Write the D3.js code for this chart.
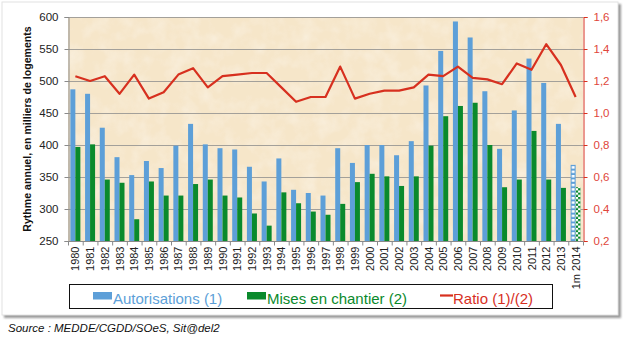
<!DOCTYPE html>
<html lang="fr">
<head>
<meta charset="utf-8">
<title>Autorisations et mises en chantier</title>
<script src="https://cdn.jsdelivr.net/npm/d3@7"></script>
<style>
    body { margin: 0; background: #ffffff; }
    text { font-family: "Liberation Sans", Arial, sans-serif; }
</style>
</head>
<body>
<svg id="chart" width="625" height="338"></svg>
<script>
    // donnees
    var years = ['1980','1981','1982','1983','1984','1985','1986','1987','1988','1989',
                 '1990','1991','1992','1993','1994','1995','1996','1997','1998','1999',
                 '2000','2001','2002','2003','2004','2005','2006','2007','2008','2009',
                 '2010','2011','2012','2013','1m 2014']
    var autorisations = [487,480,427,381,353,375,364,399,433,401,
                         395,393,366,343,379,330,325,321,395,372,
                         400,400,384,406,493,547,593,568,484,394,
                         454,535,497,433,369]
    var chantiers = [397,401,346,341,284,343,321,321,339,346,
                     321,318,293,274,326,309,296,291,308,342,
                     355,351,336,351,399,445,461,466,400,334,
                     346,422,346,333,334]
    var ratio = [1.23,1.20,1.23,1.12,1.24,1.09,1.13,1.24,1.28,1.16,
                 1.23,1.24,1.25,1.25,1.16,1.07,1.10,1.10,1.29,1.09,
                 1.12,1.14,1.14,1.16,1.24,1.23,1.29,1.22,1.21,1.18,
                 1.31,1.27,1.43,1.30,1.10]
    var leftTicks = [250,300,350,400,450,500,550,600]
    var rightTicks = [0.2,0.4,0.6,0.8,1.0,1.2,1.4,1.6]

    var blue = '#5d9fd8'
    var green = '#0a8a2c'
    var red = '#d7301f'

    var svg = d3.select('#chart')
    var defs = svg.append('defs')

    var pLeft = 68, pRight = 583, pTop = 17, pBottom = 241

    var x = d3.scaleBand().domain(years).range([pLeft, pRight]).padding(0)
    var x1 = d3.scaleBand().domain(['a', 'm']).range([0, x.bandwidth()])
        .paddingInner(0).paddingOuter(0.47)
    var y = d3.scaleLinear().domain([250, 600]).range([pBottom, pTop])
    var yr = d3.scaleLinear().domain([0.2, 1.6]).range([pBottom, pTop])

    // ombre de la carte
    defs.append('filter').attr('id', 'shadow')
        .append('feGaussianBlur').attr('stdDeviation', 1.2)

    // texture papier
    var paper = defs.append('filter').attr('id', 'paper')
        .attr('x', 0).attr('y', 0).attr('width', 1).attr('height', 1)
    paper.append('feTurbulence')
        .attr('type', 'fractalNoise').attr('baseFrequency', 0.06)
        .attr('numOctaves', 3).attr('seed', 4)
    paper.append('feColorMatrix')
        .attr('type', 'matrix')
        .attr('values', '0 0 0 0 1  0 0 0 0 1  0 0 0 0 1  1.4 0 0 0 -0.55')

    // motifs pour le dernier mois (2014)
    var last = years[years.length - 1]
    var pb = defs.append('pattern')
        .attr('id', 'chkBlue')
        .attr('patternUnits', 'userSpaceOnUse')
        .attr('x', x(last) + x1('a')).attr('y', pBottom)
        .attr('width', x1.bandwidth()).attr('height', 4.4)
    pb.append('rect').attr('width', x1.bandwidth()).attr('height', 4.4).attr('fill', blue)
    pb.append('rect').attr('x', 1.1).attr('y', 0).attr('width', x1.bandwidth() - 2.2)
        .attr('height', 2.4).attr('fill', '#fff')
    var pg = defs.append('pattern')
        .attr('id', 'chkGreen')
        .attr('patternUnits', 'userSpaceOnUse')
        .attr('x', x(last) + x1('m')).attr('y', pBottom)
        .attr('width', x1.bandwidth()).attr('height', 4.4)
    pg.append('rect').attr('width', x1.bandwidth()).attr('height', 4.4).attr('fill', green)
    pg.append('rect').attr('x', 0).attr('y', 0).attr('width', x1.bandwidth() / 2)
        .attr('height', 2.2).attr('fill', '#fff')
    pg.append('rect').attr('x', x1.bandwidth() / 2).attr('y', 2.2).attr('width', x1.bandwidth() / 2)
        .attr('height', 2.2).attr('fill', '#fff')

    svg.append('rect')
        .attr('x', 4).attr('y', 4).attr('width', 617).attr('height', 314)
        .attr('fill', '#9a9a9a')
        .attr('filter', 'url(#shadow)')
    svg.append('rect')
        .attr('x', 2).attr('y', 2).attr('width', 616).attr('height', 313)
        .attr('fill', '#ffffff')
        .attr('stroke', '#e2e2e2')

    // fond du graphique
    svg.append('rect')
        .attr('x', pLeft).attr('y', pTop)
        .attr('width', pRight - pLeft).attr('height', pBottom - pTop)
        .attr('fill', '#f6e6c9')
    svg.append('rect')
        .attr('x', pLeft).attr('y', pTop)
        .attr('width', pRight - pLeft).attr('height', pBottom - pTop)
        .attr('fill', '#fff')
        .attr('opacity', 0.45)
        .attr('filter', 'url(#paper)')

    // grille
    svg.append('g')
        .selectAll('line')
        .data(leftTicks.slice(1))
        .join('line')
        .attr('x1', pLeft).attr('x2', pRight)
        .attr('y1', function (d) { return y(d) + 0.5 })
        .attr('y2', function (d) { return y(d) + 0.5 })
        .attr('stroke', '#a3a09a')
        .attr('stroke-width', 1)

    // barres
    svg.append('g')
        .selectAll('rect')
        .data(years)
        .join('rect')
        .attr('x', function (d) { return x(d) + x1('a') })
        .attr('width', x1.bandwidth())
        .attr('y', function (d, i) { return y(autorisations[i]) })
        .attr('height', function (d, i) { return pBottom - y(autorisations[i]) })
        .attr('fill', function (d, i) { return i == years.length - 1 ? 'url(#chkBlue)' : blue })

    svg.append('g')
        .selectAll('rect')
        .data(years)
        .join('rect')
        .attr('x', function (d) { return x(d) + x1('m') })
        .attr('width', x1.bandwidth())
        .attr('y', function (d, i) { return y(chantiers[i]) })
        .attr('height', function (d, i) { return pBottom - y(chantiers[i]) })
        .attr('fill', function (d, i) { return i == years.length - 1 ? 'url(#chkGreen)' : green })

    // ratio
    var line = d3.line()
        .x(function (d, i) { return x(years[i]) + x.bandwidth() / 2 })
        .y(function (d) { return yr(d) })
    svg.append('path')
        .datum(ratio)
        .attr('d', line)
        .attr('fill', 'none')
        .attr('stroke', red)
        .attr('stroke-width', 2.2)
        .attr('stroke-linejoin', 'round')

    // axe gauche
    var gLeft = svg.append('g')
        .attr('transform', 'translate(' + (pLeft + 0.5) + ',0)')
        .call(d3.axisLeft(y).tickValues(leftTicks).tickSize(4).tickPadding(6))
    gLeft.select('.domain').attr('stroke', '#8a8a8a')
    gLeft.selectAll('.tick line').attr('stroke', '#8a8a8a')
    gLeft.selectAll('text')
        .attr('font-size', '11.5px')
        .attr('fill', '#222')
        .style('font-family', '"Liberation Sans", Arial, sans-serif')

    // axe droit
    var gRight = svg.append('g')
        .attr('transform', 'translate(' + (pRight + 0.5) + ',0)')
        .call(d3.axisRight(yr).tickValues(rightTicks).tickSize(4).tickPadding(6)
            .tickFormat(function (d) { return d.toFixed(1).replace('.', ',') }))
    gRight.select('.domain').attr('stroke', red)
    gRight.selectAll('.tick line').attr('stroke', red)
    gRight.selectAll('text')
        .attr('font-size', '11.5px')
        .attr('fill', '#e0463a')
        .style('font-family', '"Liberation Sans", Arial, sans-serif')

    // axe des x
    var gBottom = svg.append('g')
        .attr('transform', 'translate(0,' + (pBottom + 0.5) + ')')
    gBottom.append('line')
        .attr('x1', pLeft).attr('x2', pRight)
        .attr('stroke', '#8a8a8a')
    gBottom.selectAll('.tk')
        .data(years.concat(['end']))
        .join('line')
        .attr('class', 'tk')
        .attr('x1', function (d, i) { return pLeft + i * x.step() + 0.5 })
        .attr('x2', function (d, i) { return pLeft + i * x.step() + 0.5 })
        .attr('y1', 0).attr('y2', 4)
        .attr('stroke', '#8a8a8a')
    gBottom.selectAll('text')
        .data(years)
        .join('text')
        .attr('transform', function (d) {
            return 'translate(' + (x(d) + x.bandwidth() / 2 + 4) + ',5) rotate(-90)'
        })
        .attr('text-anchor', 'end')
        .attr('font-size', '11px')
        .attr('fill', '#222')
        .text(function (d) { return d })

    // titre axe y
    svg.append('text')
        .attr('transform', 'translate(31,129) rotate(-90)')
        .attr('text-anchor', 'middle')
        .attr('font-size', '10.6px')
        .attr('font-weight', 'bold')
        .attr('fill', '#111')
        .text('Rythme annuel, en milliers de logements')

    // legende
    var leg = svg.append('g')
    leg.append('rect')
        .attr('x', 69.5).attr('y', 284.5).attr('width', 483).attr('height', 24)
        .attr('fill', '#fff').attr('stroke', '#111')
    leg.append('rect')
        .attr('x', 93).attr('y', 292).attr('width', 19).attr('height', 7.5).attr('fill', blue)
    leg.append('text')
        .attr('x', 113).attr('y', 303.5)
        .attr('font-size', '15px').attr('fill', blue)
        .text('Autorisations (1)')
    leg.append('rect')
        .attr('x', 247).attr('y', 292).attr('width', 19).attr('height', 7.5).attr('fill', green)
    leg.append('text')
        .attr('x', 267).attr('y', 303.5)
        .attr('font-size', '15px').attr('fill', green)
        .text('Mises en chantier (2)')
    leg.append('line')
        .attr('x1', 440).attr('x2', 453).attr('y1', 295.5).attr('y2', 295.5)
        .attr('stroke', red).attr('stroke-width', 2.2)
    leg.append('text')
        .attr('x', 453).attr('y', 303.5)
        .attr('font-size', '15px').attr('fill', red)
        .text('Ratio (1)/(2)')

    // source
    svg.append('text')
        .attr('x', 8).attr('y', 332)
        .attr('font-size', '11.5px')
        .attr('font-style', 'italic')
        .attr('fill', '#111')
        .text('Source : MEDDE/CGDD/SOeS, Sit@del2')
</script>
</body>
</html>
